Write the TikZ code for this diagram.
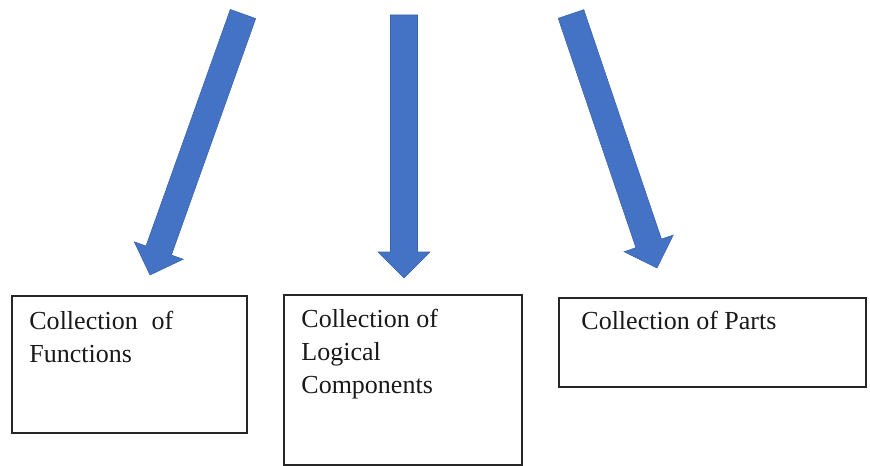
\documentclass[tikz,border=0pt]{standalone}
\usepackage{fontspec}
\setmainfont{Liberation Serif}
\usepackage{tikz}
\usetikzlibrary{calc}
\usetikzlibrary{positioning}

\definecolor{arrowblue}{HTML}{4472C4}

\begin{document}
\begin{tikzpicture}[x=0.02cm, y=-0.02cm,
    box/.style={draw=black!85, line width=1.1pt, inner sep=0pt},
    boxtext/.style={inner sep=0pt, align=left, text=black!90,
        font=\fontsize{14.8}{18.8}\selectfont}]
\useasboundingbox (0,0) rectangle (870,466);

%arrows
\coordinate (t1) at (243,14);
\coordinate (h1) at (150,275);
\coordinate (t2) at (404,15);
\coordinate (h2) at (404,278);
\coordinate (t3) at (571,14);
\coordinate (h3) at (657,268);
\foreach \i in {1,2,3} {
\coordinate (n\i) at ($(h\i)!0.52cm!(t\i)$);
\filldraw[fill=arrowblue, draw=arrowblue!85!black, line width=0.3pt]
  ($(t\i)!0.27cm!90:(h\i)$) -- ($(n\i)!0.27cm!90:(h\i)$) -- ($(n\i)!0.52cm!90:(h\i)$)
  -- (h\i) -- ($(n\i)!0.52cm!-90:(h\i)$) -- ($(n\i)!0.27cm!-90:(h\i)$)
  -- ($(t\i)!0.27cm!-90:(h\i)$) -- cycle;
}

%boxes
\node[box, minimum width=4.70cm, minimum height=2.74cm] (functions) at (129.5,364.5) {};
\node[box, minimum width=4.76cm, minimum height=3.40cm] (logical) at (403,380) {};
\node[box, minimum width=6.14cm, minimum height=1.78cm] (parts) at (712.5,342.5) {};

%labels
\node[boxtext, below right=0.32cm and 0.36cm of functions.north west] (functionslabel)
  {Collection\hspace{0.28cm}of\\Functions};
\node[boxtext, below right=0.30cm and 0.36cm of logical.north west] (logicallabel)
  {Collection of\\Logical\\Components};
\node[boxtext, below right=0.28cm and 0.46cm of parts.north west] (partslabel)
  {Collection of Parts};
\end{tikzpicture}
\end{document}
